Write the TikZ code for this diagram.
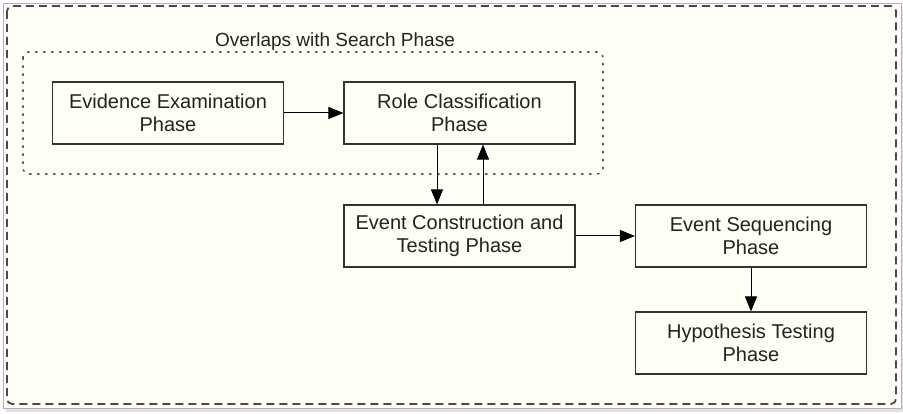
\documentclass[tikz,border=0pt]{standalone}
\usepackage{fontspec}
\setmainfont{Liberation Sans}
\usetikzlibrary{arrows.meta,calc}
\definecolor{cream}{HTML}{FFFFF5}
\definecolor{pinkframe}{HTML}{C9A3C9}
\definecolor{lineclr}{HTML}{333333}
\definecolor{dashclr}{HTML}{4A4A4A}
\definecolor{txtclr}{HTML}{222222}
\tikzset{
  phasebox/.style={draw=lineclr, line width=1.1pt, fill=cream, minimum width=231pt, minimum height=62pt,
    inner sep=0pt, align=center, text=txtclr, font=\fontsize{20}{23}\selectfont},
  arr/.style={draw=black, line width=1pt, -{Triangle[length=15pt,width=12pt]}},
}
\begin{document}
\begin{tikzpicture}[x=1pt,y=-1pt]
\useasboundingbox (0,0) rectangle (903,414);
% page background and frame
\fill[white] (0,0) rectangle (903,414);
\fill[black!12] (6,6) rectangle (903,412);
\draw[pinkframe, fill=cream, line width=0.8pt] (3.5,3) rectangle (901.5,408);
% outer dashed container
\draw[dashclr, line width=1.8pt, dash pattern=on 8pt off 5pt, rounded corners=5pt] (7,6) rectangle (896,404);
% dotted group
\draw[dashclr, line width=1.6pt, dash pattern=on 1.4pt off 6.6pt, line cap=round, rounded corners=6pt] (23,52) rectangle (603,174);
\node[text=txtclr, font=\fontsize{19}{22}\selectfont, anchor=base] (lbl) at (335,47) {Overlaps with Search Phase};
% boxes
\node[phasebox] (ee) at (168,113) {Evidence Examination\\Phase};
\node[phasebox] (rc) at (459.5,113) {Role Classification\\Phase};
\node[phasebox] (ec) at (459.5,236) {Event Construction and\\Testing Phase};
\node[phasebox] (es) at (751,236) {Event Sequencing\\Phase};
\node[phasebox] (ht) at (751,343) {Hypothesis Testing\\Phase};
% connectors
\draw[arr] (ee.east) -- (rc.west);
\draw[arr] ($(rc.south)+(-22.5,0)$) -- ($(ec.north)+(-22.5,0)$);
\draw[arr] ($(ec.north)+(23.5,0)$) -- ($(rc.south)+(23.5,0)$);
\draw[arr] (ec.east) -- (es.west);
\draw[arr] (es.south) -- (ht.north);
\end{tikzpicture}
\end{document}
